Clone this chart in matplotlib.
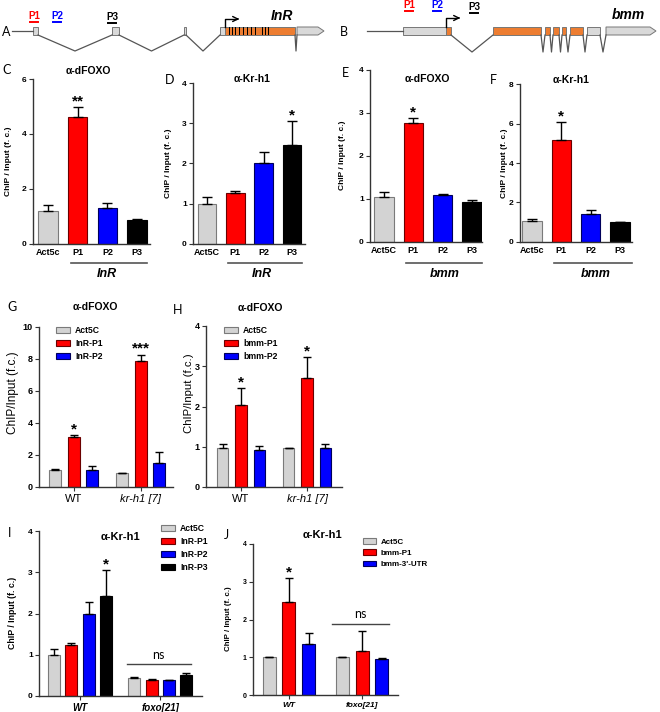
import matplotlib
matplotlib.use('Agg')
import matplotlib.pyplot as plt
import numpy as np
from matplotlib.patches import Rectangle, Polygon
from matplotlib.lines import Line2D

plt.rcParams['font.family'] = ['Liberation Sans', 'DejaVu Sans']

W, H = 660, 712

# ---------------- data ----------------
# gene models, x in figure pixels (schematic)
inr_utr = [(33, 38), (112, 119), (184, 186), (220, 225), (297, 318)]
inr_cds = [(225, 295)]
inr_stripes = [229, 232, 235, 239, 243, 247, 251, 255, 262, 265, 268]
bmm_utr = [(403, 446), (587, 600), (606, 650)]
bmm_cds = [(446, 451), (493, 541), (545, 550), (553, 559), (562, 566), (570, 583)]

sites_c = ['Act5c', 'P1', 'P2', 'P3']
c_mean = [1.2, 4.63, 1.31, 0.84]
c_err = [0.22, 0.36, 0.18, 0.07]

sites_d = ['Act5C', 'P1', 'P2', 'P3']
d_mean = [1.0, 1.25, 2.0, 2.46]
d_err = [0.15, 0.05, 0.29, 0.59]

sites_e = ['Act5C', 'P1', 'P2', 'P3']
e_mean = [1.03, 2.75, 1.08, 0.93]
e_err = [0.12, 0.13, 0.04, 0.04]

sites_f = ['Act5c', 'P1', 'P2', 'P3']
f_mean = [1.05, 5.15, 1.39, 0.98]
f_err = [0.1, 0.95, 0.2, 0.04]

groups_gh = ['WT', 'kr-h1 [7]']
g_labels = ['Act5C', 'InR-P1', 'InR-P2']
g_mean = [[1.05, 0.85], [3.1, 7.86], [1.05, 1.5]]
g_err = [[0.08, 0.05], [0.14, 0.42], [0.25, 0.67]]

h_labels = ['Act5C', 'bmm-P1', 'bmm-P2']
h_mean = [[0.96, 0.96], [2.04, 2.71], [0.93, 0.98]]
h_err = [[0.11, 0.01], [0.43, 0.52], [0.1, 0.08]]

groups_ij = ['WT', 'foxo[21]']
i_labels = ['Act5C', 'InR-P1', 'InR-P2', 'InR-P3']
i_mean = [[1.0, 0.44], [1.24, 0.40], [1.99, 0.38], [2.43, 0.52]]
i_err = [[0.13, 0.02], [0.05, 0.02], [0.3, 0.02], [0.62, 0.03]]

j_labels = ['Act5C', 'bmm-P1', "bmm-3'-UTR"]
j_mean = [[1.0, 1.0], [2.47, 1.17], [1.34, 0.96]]
j_err = [[0.0, 0.0], [0.63, 0.53], [0.29, 0.02]]

cols4 = ['#d3d3d3', '#ff0000', '#0000ff', '#000000']
edges4 = ['#7a7a7a', '#6a0000', '#00005a', '#000000']

fig = plt.figure(figsize=(W / 100, H / 100), dpi=100)


def fx(x):
    return x / W


def fy(y):
    return 1 - y / H


def ftext(x, y, s, **kw):
    kw.setdefault('ha', 'center')
    kw.setdefault('va', 'center')
    fig.text(fx(x), fy(y), s, **kw)


def fline(x0, x1, y, **kw):
    fig.add_artist(Line2D([fx(x0), fx(x1)], [fy(y), fy(y)],
                          transform=fig.transFigure, **kw))


def make_ax(x0, x1, ytop, ybot, ylim, yticks, tsize=6):
    ax = fig.add_axes([fx(x0), fy(ybot), (x1 - x0) / W, (ybot - ytop) / H])
    for s in ['top', 'right']:
        ax.spines[s].set_visible(False)
    for s in ['left', 'bottom']:
        ax.spines[s].set_color('#333333')
        ax.spines[s].set_linewidth(1.0)
    ax.set_ylim(*ylim)
    ax.set_yticks(yticks, [str(t) for t in yticks], fontweight='bold', fontsize=tsize)
    ax.tick_params(axis='y', length=3, width=0.8, pad=1.5, color='#333333')
    return ax


# ---------------- gene models ----------------
gax = fig.add_axes([0, fy(60), 1, 60 / H])
gax.set_xlim(0, W)
gax.set_ylim(60, 0)
gax.axis('off')


def gene(exons_utr, exons_cds, line_start, y_apex):
    allx = sorted(exons_utr + exons_cds)
    gax.plot([line_start, allx[0][0]], [31, 31], color='#555555', lw=0.9)
    for a, b in zip(allx[:-1], allx[1:]):
        if b[0] > a[1]:
            gax.plot([a[1], (a[1] + b[0]) / 2, b[0]], [35, y_apex, 35],
                     color='#555555', lw=0.9)
    for a, b in exons_utr[:-1]:
        gax.add_patch(Rectangle((a, 27), b - a, 8, fc='#d9d9d9', ec='#777777', lw=0.7))
    a, b = exons_utr[-1]
    gax.add_patch(Polygon([(a, 27), (b, 27), (b + 6, 31), (b, 35), (a, 35)],
                          closed=True, fc='#d9d9d9', ec='#777777', lw=0.7))
    for a, b in exons_cds:
        gax.add_patch(Rectangle((a, 27), b - a, 8, fc='#ed7d31', ec='#777777', lw=0.7))


gene(inr_utr, inr_cds, 12, 51)
for s in inr_stripes:
    gax.add_patch(Rectangle((s, 27), 1.2, 8, fc='black', ec='none'))
gene(bmm_utr, bmm_cds, 367, 52)
# TSS arrows
gax.plot([225, 225, 236], [27, 19, 19], color='black', lw=1.0)
gax.annotate('', xy=(242, 19), xytext=(234, 19),
             arrowprops=dict(arrowstyle='->', color='black', lw=1.0, mutation_scale=9))
gax.plot([446, 446, 456], [27, 18, 18], color='black', lw=1.0)
gax.annotate('', xy=(463, 18), xytext=(455, 18),
             arrowprops=dict(arrowstyle='->', color='black', lw=1.0, mutation_scale=9))

ftext(6, 32, 'A', fontsize=9, family='Lato')
ftext(344, 32, 'B', fontsize=9, family='Lato')
ftext(282, 16, 'InR', fontsize=10, fontweight='bold', style='italic')
ftext(628, 15, 'bmm', fontsize=10, fontweight='bold', style='italic')
for lab, x, y, c in [('P1', 34, 16, 'red'), ('P2', 57, 16, 'blue'), ('P3', 112, 17, 'black'),
                     ('P1', 409, 5, 'red'), ('P2', 437, 5, 'blue'), ('P3', 474, 7, 'black')]:
    ftext(x, y, lab, fontsize=7, fontweight='bold', color=c)
    fline(x - 4, x + 4, y + 6, color=c, lw=1.4)


# ---------------- C-F ----------------
def simple_panel(box, ylim, yticks, sites, mean, err, stars, title, tpos,
                 letter, lpos, ylab_x, line, gname, gpos, bw=0.66):
    x0, x1, ytop, ybot, bpos = box
    ax = make_ax(x0, x1, ytop, ybot, ylim, yticks)
    pos = np.arange(len(sites))
    ax.bar(pos, mean, bw, color=cols4, edgecolor=edges4, linewidth=0.8,
           yerr=[np.zeros(len(mean)), err],
           error_kw=dict(ecolor='black', elinewidth=1.0, capsize=3.4, capthick=1.0))
    ax.set_xlim(*bpos)
    ax.set_xticks(pos, sites, fontweight='bold', fontsize=6.5)
    ax.tick_params(axis='x', length=0, pad=3)
    for i, s in stars.items():
        ax.annotate(s, (pos[i], mean[i] + err[i]), xytext=(0, -1),
                    textcoords='offset points', ha='center', va='bottom',
                    fontsize=11, fontweight='bold')
    ftext(tpos[0], tpos[1], title, fontsize=7.5, fontweight='bold')
    ftext(lpos[0], lpos[1], letter, fontsize=9, family='Lato')
    ftext(ylab_x, (ytop + ybot) / 2, 'ChIP / Input (f. c.)', rotation=90,
          fontsize=6, fontweight='bold')
    fline(line[0], line[1], 263, color='#555555', lw=1.2)
    ftext(gpos, 274, gname, fontsize=9, fontweight='bold', style='italic')
    return ax


simple_panel((33, 150, 79, 243.5, (-0.5, 3.43)), (0, 6), [0, 2, 4, 6], sites_c,
             c_mean, c_err, {1: '**'}, 'α-dFOXO', (88, 71), 'C', (7, 70), 9,
             (71, 147), 'InR', 107)
simple_panel((193, 305, 83, 243.7, (-0.49, 3.46)), (0, 4), [0, 1, 2, 3, 4], sites_d,
             d_mean, d_err, {3: '*'}, 'α-Kr-h1', (252, 79), 'D', (170, 80), 169,
             (228, 302), 'InR', 262)
simple_panel((370, 482, 69.7, 241.7, (-0.48, 3.34)), (0, 4), [0, 1, 2, 3, 4], sites_e,
             e_mean, e_err, {1: '*'}, 'α-dFOXO', (427, 79), 'E', (345, 73), 342,
             (406, 482), 'bmm', 445)
simple_panel((520, 632, 84.3, 241.7, (-0.41, 3.41)), (0, 8), [0, 2, 4, 6, 8], sites_f,
             f_mean, f_err, {1: '*'}, 'α-Kr-h1', (571, 80), 'F', (493, 80), 504,
             (554, 632), 'bmm', 596)


# ---------------- grouped panels ----------------
def grouped(box, ylim, yticks, groups, labels, mean, err, step, bw, xl,
            tsize, gfont, stars, leg_xy, leg_fs, cap):
    x0, x1, ytop, ybot = box
    ax = make_ax(x0, x1, ytop, ybot, ylim, yticks, tsize)
    n = len(labels)
    gpos = np.arange(len(groups))
    offs = (np.arange(n) - (n - 1) / 2) * step
    for k in range(n):
        ax.bar(gpos + offs[k], mean[k], bw, color=cols4[k], edgecolor=edges4[k],
               linewidth=0.8, label=labels[k],
               yerr=[np.zeros(len(groups)), err[k]],
               error_kw=dict(ecolor='black', elinewidth=1.0, capsize=cap, capthick=1.0))
    for (k, g), s in stars.items():
        ax.annotate(s, (gpos[g] + offs[k], mean[k][g] + err[k][g]), xytext=(0, -1),
                    textcoords='offset points', ha='center', va='bottom',
                    fontsize=11, fontweight='bold')
    ax.set_xlim(*xl)
    ax.set_xticks(gpos, groups, **gfont)
    ax.tick_params(axis='x', length=3, width=0.8, pad=2, color='#333333')
    ax.legend(loc='upper left', bbox_to_anchor=(fx(leg_xy[0]), fy(leg_xy[1])),
              bbox_transform=fig.transFigure, frameon=False,
              prop=dict(weight='bold', size=leg_fs), handlelength=1.6,
              handleheight=0.7, labelspacing=0.45, handletextpad=0.6,
              borderpad=0, borderaxespad=0)
    return ax, gpos, offs


# G
axg, gp, of = grouped((39, 173, 327, 487), (0, 10), [0, 2, 4, 6, 8, 10], groups_gh,
                      g_labels, g_mean, g_err, 0.276, 0.18, (-0.52, 1.48), 6.5,
                      dict(fontsize=8), {(1, 0): '*', (1, 1): '***'}, (56, 326), 6.2, 2.8)
axg.get_xticklabels()[1].set_style('italic')
ftext(95, 307, 'α-dFOXO', fontsize=7.5, fontweight='bold')
ftext(12, 307, 'G', fontsize=9, family='Lato')
ftext(13, 393, 'ChIP/Input (f.c.)', rotation=90, fontsize=8.5)

# H
axh, gp, of = grouped((206, 342, 326, 487), (0, 4), [0, 1, 2, 3, 4], groups_gh,
                      h_labels, h_mean, h_err, 0.28, 0.18, (-0.53, 1.53), 6.5,
                      dict(fontsize=8), {(1, 0): '*', (1, 1): '*'}, (224, 326), 6.2, 2.8)
axh.get_xticklabels()[1].set_style('italic')
ftext(260, 308, 'α-dFOXO', fontsize=7.5, fontweight='bold')
ftext(178, 310, 'H', fontsize=9, family='Lato')
ftext(189, 393, 'ChIP/Input (f.c.)', rotation=90, fontsize=8.2)

# I
axi, gp, of = grouped((39, 202, 531, 696), (0, 4), [0, 1, 2, 3, 4], groups_ij,
                      i_labels, i_mean, i_err, 0.215, 0.15, (-0.51, 1.52), 6,
                      dict(fontsize=7, fontweight='bold', style='italic'),
                      {(3, 0): '*'}, (161, 524), 6.2, 2.8)
ftext(120, 537, 'α-Kr-h1', fontsize=8, fontweight='bold')
ftext(10, 533, 'I', fontsize=9, family='Lato')
ftext(13, 613, 'ChIP / Input (f. c.)', rotation=90, fontsize=6.3, fontweight='bold')
axi.plot([gp[1] + of[0] - 0.09, gp[1] + of[-1] + 0.06], [0.78, 0.78],
         color='#444444', lw=1.0)
axi.text(gp[1] + (of[0] + of[-1]) / 2 - 0.03, 0.86, 'ns', ha='center', va='bottom',
         fontsize=9, family='Lato')

# J
axj, gp, of = grouped((253, 398, 544, 695), (0, 4), [0, 1, 2, 3, 4], groups_ij,
                      j_labels, j_mean, j_err, 0.27, 0.18, (-0.49, 1.49), 5,
                      dict(fontsize=6, fontweight='bold', style='italic'),
                      {(1, 0): '*'}, (363, 538), 5.8, 2.8)
ftext(322, 535, 'α-Kr-h1', fontsize=8, fontweight='bold')
ftext(227, 535, 'J', fontsize=9, family='Lato')
ftext(228, 619, 'ChIP / Input (f. c.)', rotation=90, fontsize=5.7, fontweight='bold')
axj.plot([gp[1] + of[0] - 0.14, gp[1] + of[-1] + 0.1], [1.88, 1.88],
         color='#444444', lw=1.0)
axj.text(gp[1] - 0.02, 1.98, 'ns', ha='center', va='bottom', fontsize=9, family='Lato')

fig.savefig('out.png', dpi=100)
